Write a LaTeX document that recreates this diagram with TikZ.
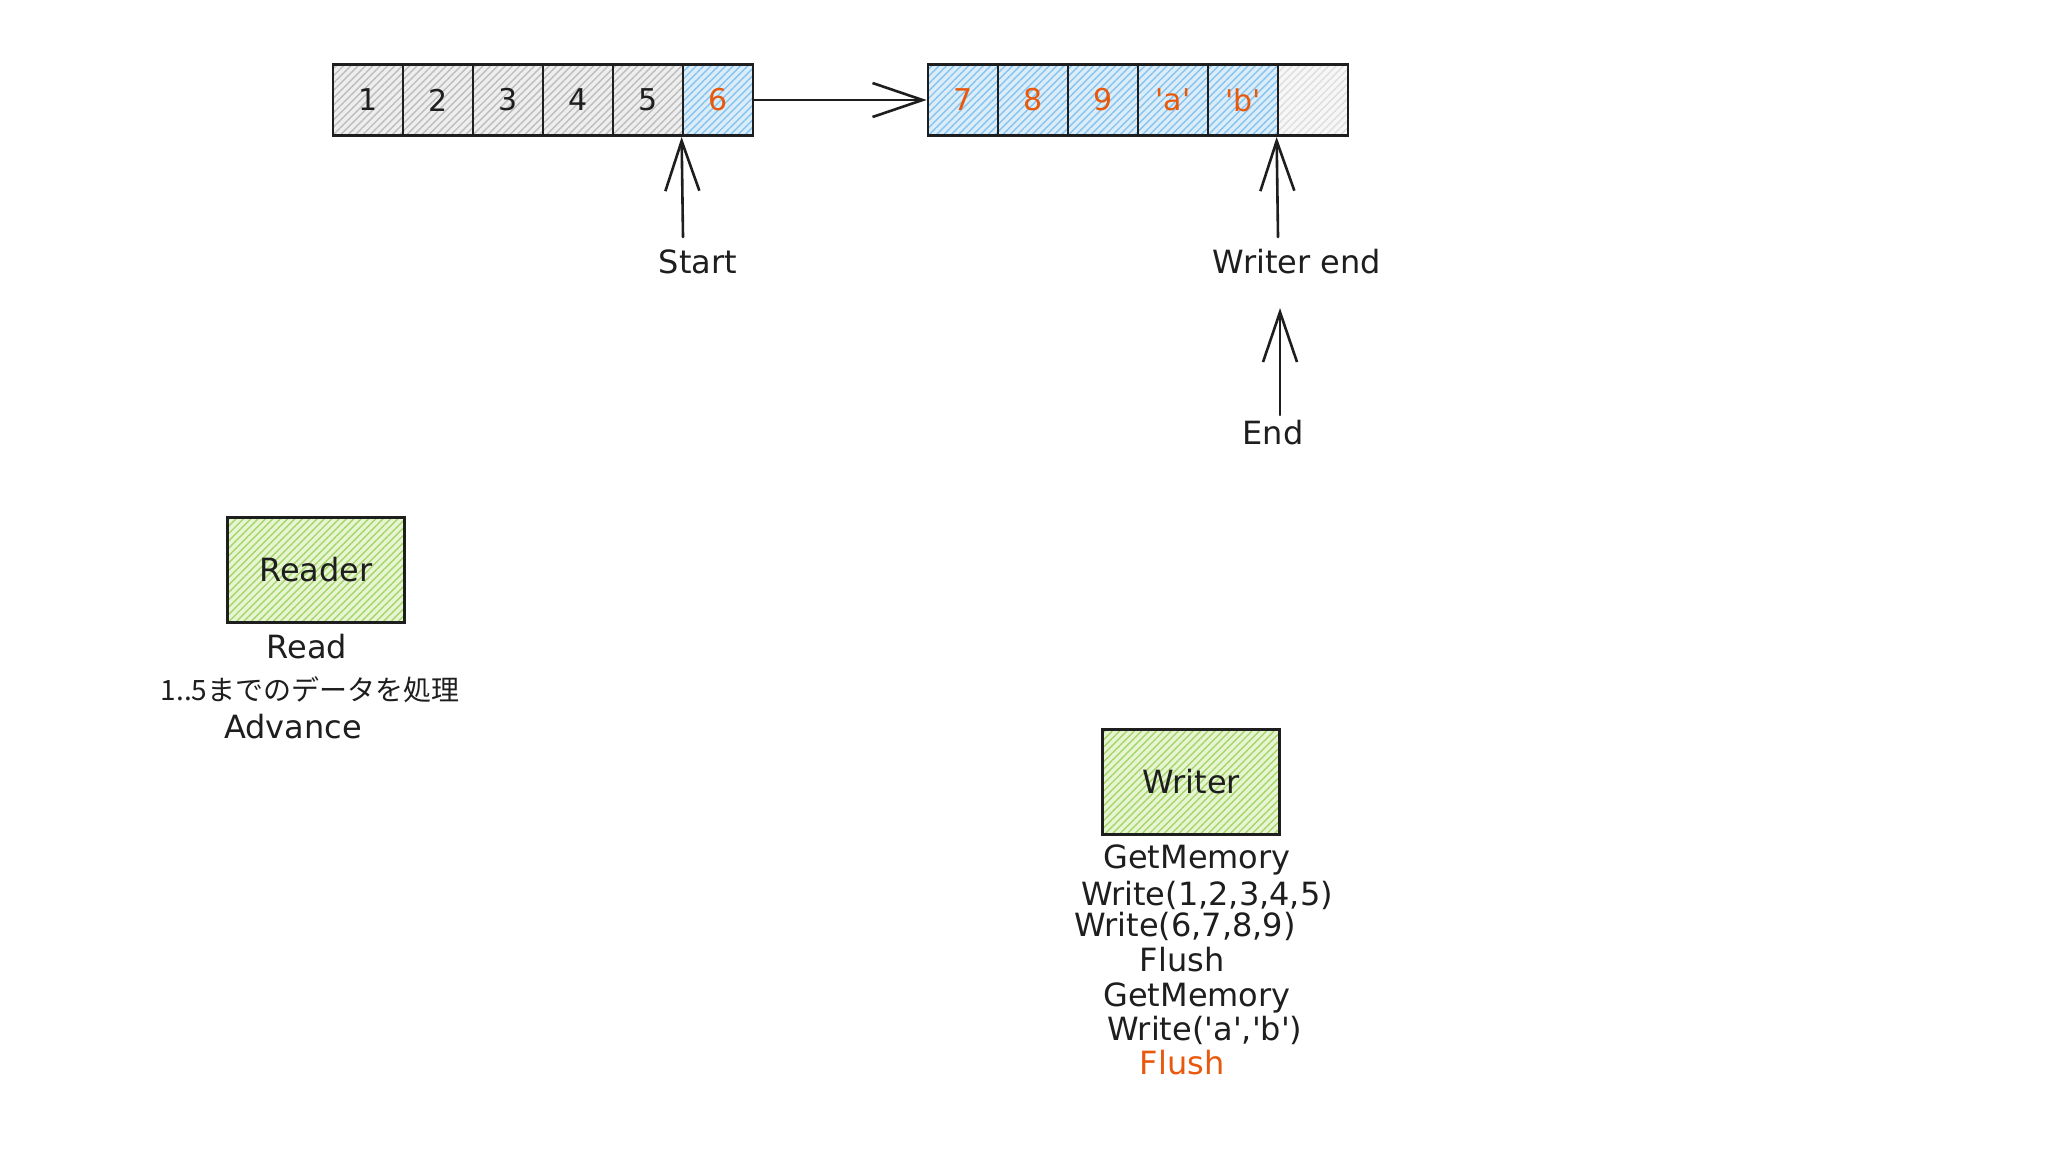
\documentclass[tikz,border=0pt]{standalone}
\usepackage{fontspec}
\setmainfont{DejaVu Sans}
\newfontfamily\jpfont{Noto Sans CJK JP}
\usetikzlibrary{arrows.meta,patterns.meta}
\definecolor{inkblack}{HTML}{1E1E1E}
\definecolor{inkorange}{HTML}{E8590C}
\definecolor{hatchgrey}{HTML}{BDBDBD}
\definecolor{hatchblue}{HTML}{86C3EE}
\definecolor{hatchgreen}{HTML}{A6D66A}
\definecolor{papergrey}{HTML}{EEEEEE}
\definecolor{paperblue}{HTML}{DCEDFA}
\definecolor{papergreen}{HTML}{E7F5D3}
\newcommand{\sq}{\textquotesingle}
\begin{document}
\begin{tikzpicture}[x=0.5pt,y=-0.5pt,
    hatch/.style={pattern={Lines[angle=45,distance=2.6pt,line width=0.7pt]}},
    cell/.style={draw=inkblack, line width=1.4pt, minimum width=35pt,
      minimum height=35.5pt, inner sep=0pt, text=inkblack,
      font=\fontsize{15}{18}\selectfont},
    greycell/.style={cell, preaction={fill=papergrey}, hatch, pattern color=hatchgrey},
    bluecell/.style={cell, preaction={fill=paperblue}, hatch, pattern color=hatchblue,
      text=inkorange},
    emptycell/.style={cell, preaction={fill=black!3}, hatch, pattern color=black!13},
    actor/.style={draw=inkblack, line width=1.4pt, minimum width=88.5pt,
      minimum height=52.5pt, inner sep=0pt, preaction={fill=papergreen}, hatch,
      pattern color=hatchgreen, text=inkblack, font=\fontsize{16}{19}\selectfont},
    lbl/.style={inner sep=0pt, text=inkblack, font=\fontsize{16}{19}\selectfont},
    barb/.style={draw=inkblack, line width=1.3pt, line cap=round,
      -{Straight Barb[length=25pt,width=17pt,line width=1.3pt]}}]
  \def\cy{100};
  \def\ty{237};
  \fill[white] (0,0) rectangle (2048,1152);
  \useasboundingbox (0,0) rectangle (2048,1152);
  % first segment
  \node[greycell] (c1) at (368,\cy) {1};
  \node[greycell] (c2) at (438,\cy) {2};
  \node[greycell] (c3) at (508,\cy) {3};
  \node[greycell] (c4) at (578,\cy) {4};
  \node[greycell] (c5) at (648,\cy) {5};
  \node[bluecell] (c6) at (718,\cy) {6};
  % second segment
  \node[bluecell] (c7) at (963,\cy) {7};
  \node[bluecell] (c8) at (1033,\cy) {8};
  \node[bluecell] (c9) at (1103,\cy) {9};
  \node[bluecell] (c10) at (1173,\cy) {\sq a\sq};
  \node[bluecell] (c11) at (1243,\cy) {\sq b\sq};
  \node[emptycell] (c12) at (1313,\cy) {};
  \draw[barb] (c6.east) -- (c7.west);
  % pointers
  \node[lbl] (start) at (698,262) {Start};
  \coordinate (startTail) at (683,\ty);
  \draw[barb] (startTail) -- (c6.south west);
  \node[lbl] (wend) at (1297,262) {Writer end};
  \coordinate (wendTail) at (1278,\ty);
  \draw[barb] (wendTail) -- (c12.south west);
  \node[lbl] (end) at (1273,433) {End};
  \coordinate (endTip) at (1280,308);
  \coordinate (endTail) at (1280,415);
  \draw[barb] (endTail) -- (endTip);
  % reader
  \node[actor] (reader) at (316,570) {Reader};
  \node[lbl] (read) at (307,647) {Read};
  \node[lbl, font=\jpfont\fontsize{14}{17}\selectfont] (process) at (310,690) {1..5までのデータを処理};
  \node[lbl] (advance) at (293,727) {Advance};
  % writer
  \node[actor] (writer) at (1191,782) {Writer};
  \node[lbl] (getmem1) at (1197,860) {GetMemory};
  \node[lbl] (write1) at (1207,895) {Write(1,2,3,4,5)};
  \node[lbl] (write2) at (1185,926) {Write(6,7,8,9)};
  \node[lbl] (flush1) at (1182,960) {Flush};
  \node[lbl] (getmem2) at (1197,998) {GetMemory};
  \node[lbl] (write3) at (1205,1030) {Write(\sq a\sq,\sq b\sq)};
  \node[lbl, text=inkorange] (flush2) at (1182,1063) {Flush};
\end{tikzpicture}
\end{document}
